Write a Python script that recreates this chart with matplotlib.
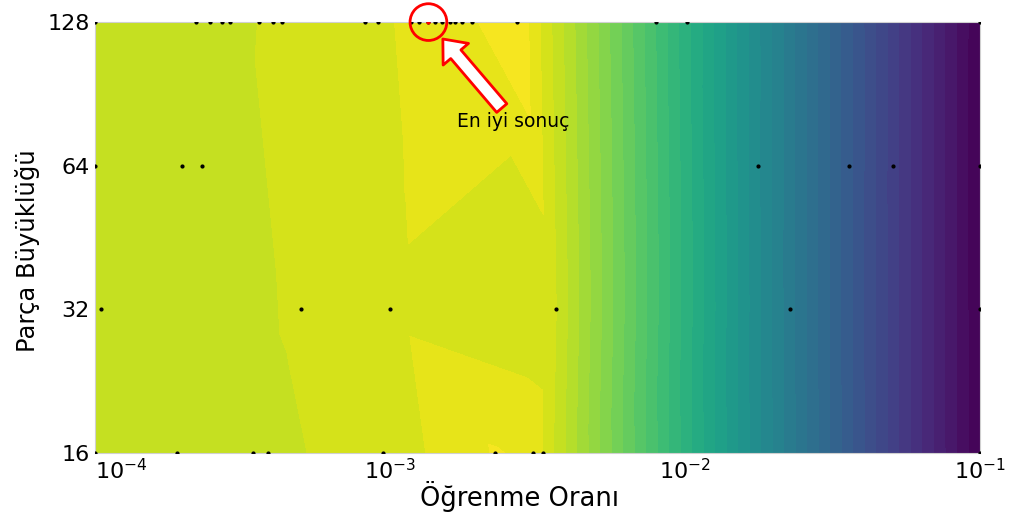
import matplotlib
matplotlib.use("Agg")
import matplotlib.pyplot as plt
import matplotlib.tri as mtri
import numpy as np

# deneme sonuçları (öğrenme oranı, doğruluk) her parça büyüklüğü için
lr_128 = [1e-4, 2.2e-4, 2.45e-4, 2.7e-4, 2.87e-4, 3.6e-4, 4.0e-4, 4.3e-4, 8.2e-4, 9.1e-4,
          1.18e-3, 1.25e-3, 1.35e-3, 1.42e-3, 1.5e-3, 1.6e-3, 1.66e-3, 1.75e-3, 1.9e-3,
          2.7e-3, 8.0e-3, 1.02e-2, 1e-1]
acc_128 = [0.890, 0.899, 0.900, 0.901, 0.902, 0.905, 0.907, 0.908, 0.921, 0.923,
           0.930, 0.932, 0.935, 0.936, 0.938, 0.940, 0.941, 0.943, 0.945,
           0.970, 0.708, 0.650, 0.100]

lr_64 = [1e-4, 1.97e-4, 2.31e-4, 1.77e-2, 3.62e-2, 5.1e-2, 1e-1]
acc_64 = [0.889, 0.8965, 0.898, 0.517, 0.345, 0.262, 0.100]

lr_32 = [1.05e-4, 5.0e-4, 1.0e-3, 3.66e-3, 2.27e-2, 1e-1]
acc_32 = [0.889, 0.907, 0.921, 0.905, 0.457, 0.100]

lr_16 = [1e-4, 1.9e-4, 3.44e-4, 3.85e-4, 9.46e-4, 2.27e-3, 3.05e-3, 3.3e-3, 1e-1]
acc_16 = [0.889, 0.894, 0.8995, 0.901, 0.912, 0.950, 0.943, 0.925, 0.100]

best_lr = 1.35e-3
best_bs = 128

x_ticks = [1e-4, 1e-3, 1e-2, 1e-1]
x_labels = ["$10^{-4}$", "$10^{-3}$", "$10^{-2}$", "$10^{-1}$"]
y_ticks = [16, 32, 64, 128]

lr = np.array(lr_128 + lr_64 + lr_32 + lr_16)
bs = np.array([128] * len(lr_128) + [64] * len(lr_64) + [32] * len(lr_32) + [16] * len(lr_16))
acc = np.array(acc_128 + acc_64 + acc_32 + acc_16)

x = np.log10(lr)
y = np.log2(bs)
# üçgenleme log10 uzayında (y ekseni sıkışık)
tri = mtri.Triangulation(x, y, triangles=mtri.Triangulation(x, np.log10(bs)).triangles)

fig = plt.figure(figsize=(10.13, 5.14), dpi=100)
ax = fig.add_axes([0.094, 0.119, 0.873, 0.838])

levels = np.linspace(acc.min(), acc.max(), 41)
ax.tricontourf(tri, acc, levels=levels, cmap="viridis")
ax.scatter(x, y, s=4, c="black", zorder=3)

bx, by = np.log10(best_lr), np.log2(best_bs)
ax.scatter([bx], [by], s=4, c="red", zorder=4)
ax.scatter([bx], [by], s=700, facecolors="none", edgecolors="red", linewidths=2,
           clip_on=False, zorder=5)
ax.annotate("En iyi sonuç", xy=(bx, by), xytext=(61, -71.5), textcoords="offset points",
            ha="center", va="center", fontsize=13.5,
            arrowprops=dict(arrowstyle="simple,head_length=0.6,head_width=1.0,tail_width=0.4",
                            mutation_scale=24, fc="white", ec="red", lw=2,
                            shrinkA=1, shrinkB=16))

ax.set_xlim(-4, -1)
ax.set_ylim(4, 7)
ax.set_xticks(np.log10(x_ticks), labels=x_labels)
ax.set_yticks(np.log2(y_ticks), labels=[str(v) for v in y_ticks])
ax.tick_params(length=0, labelsize=16, pad=4)
ax.get_xticklabels()[0].set_ha("left")
ax.set_xlabel("Öğrenme Oranı", fontsize=18.5)
ax.set_ylabel("Parça Büyüklüğü", fontsize=17.5)
ax.xaxis.set_label_coords(0.48, -0.066)
ax.yaxis.set_label_coords(-0.062, 0.47)
for s in ax.spines.values():
    s.set_color("#d0d0d0")
    s.set_linewidth(0.8)

fig.savefig("out.png", dpi=100)
